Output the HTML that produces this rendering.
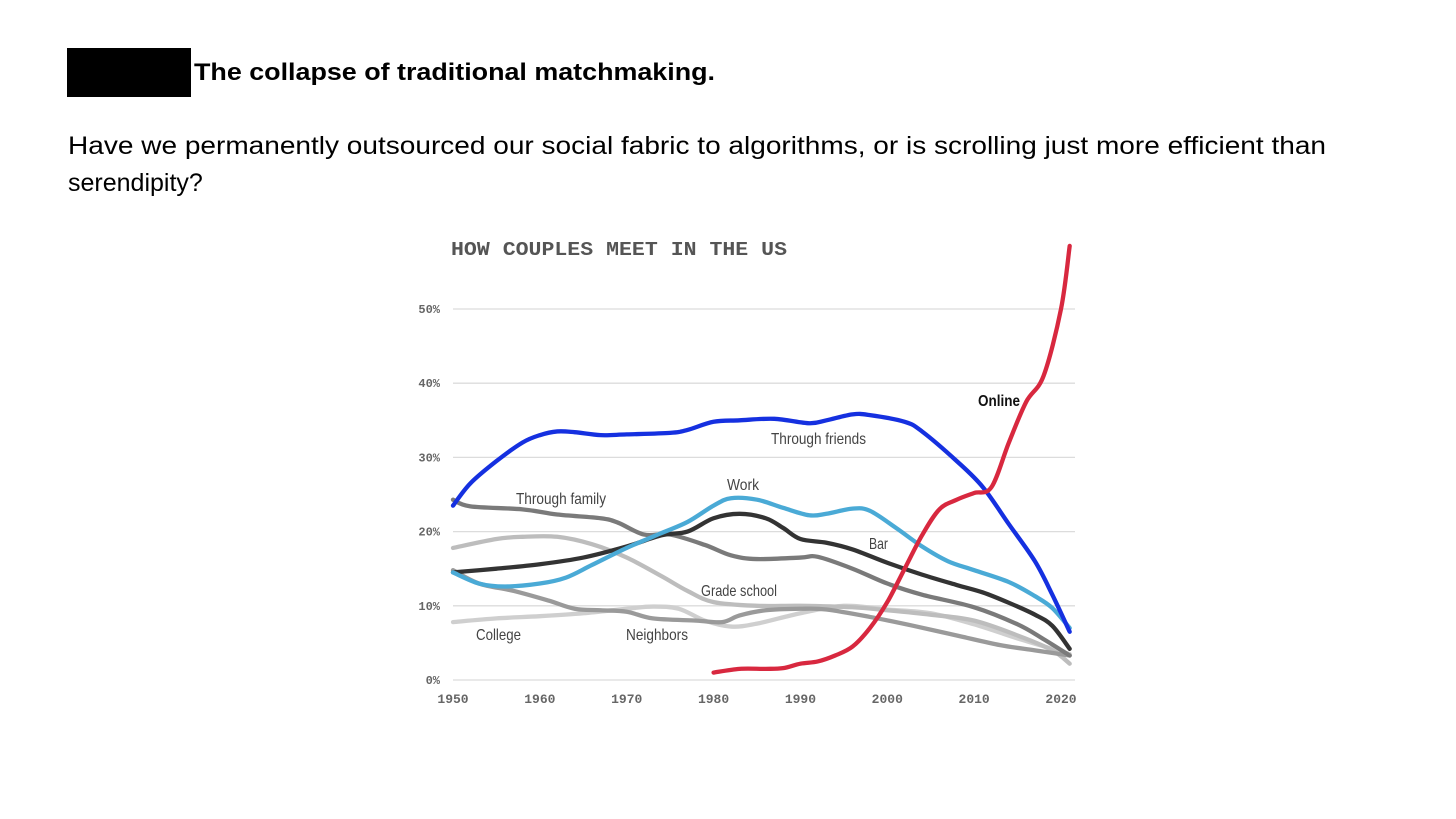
<!DOCTYPE html>
<html><head><meta charset="utf-8"><style>
html,body{margin:0;padding:0;background:#fff;}
svg{display:block;}
</style></head><body>
<svg id="page" width="1456" height="819" viewBox="0 0 1456 819" xmlns="http://www.w3.org/2000/svg">
<rect x="0" y="0" width="1456" height="819" fill="#fff"/>
<rect x="67" y="48" width="124" height="49" fill="#000"/>
<text x="194" y="80" font-family="Liberation Sans, sans-serif" font-weight="bold" font-size="24" textLength="521" lengthAdjust="spacingAndGlyphs" fill="#000">The collapse of traditional matchmaking.</text>
<text x="68" y="154" font-family="Liberation Sans, sans-serif" font-size="25" textLength="1258" lengthAdjust="spacingAndGlyphs" fill="#000">Have we permanently outsourced our social fabric to algorithms, or is scrolling just more efficient than</text>
<text x="68" y="191" font-family="Liberation Sans, sans-serif" font-size="25" fill="#000">serendipity?</text>
<text x="451" y="255" font-family="Liberation Mono, monospace" font-weight="bold" font-size="19" textLength="336" lengthAdjust="spacingAndGlyphs" fill="#555">HOW COUPLES MEET IN THE US</text>
<g id="grid"></g>
<g id="lines"></g>
<g id="labels"></g>
</svg>
<script>
const yTicks=[0,10,20,30,40,50];
const xTicks=[1950,1960,1970,1980,1990,2000,2010,2020];
const friendsYears=[1950,1952,1955,1958,1960,1962,1964,1967,1970,1975,1977,1980,1983,1987,1991,1993,1996,1998,2002,2004,2008,2011,2014,2017,2019,2021];
const friendsVals=[23.5,26.5,29.5,32,33,33.5,33.4,33,33.1,33.3,33.7,34.8,35,35.2,34.6,35,35.8,35.7,34.8,33.5,29.5,26,21,16,11.5,6.5];
const onlineYears=[1980,1983,1986,1988,1990,1992,1994,1996,1998,2000,2002,2004,2006,2008,2010,2012,2014,2016,2018,2020,2021];
const onlineVals=[1,1.5,1.5,1.6,2.2,2.5,3.3,4.5,7,10.5,15,19.5,23,24.3,25.2,26,32,37.5,41,50,58.5];
const workYears=[1950,1953,1956,1960,1963,1966,1970,1974,1977,1980,1982,1985,1988,1991,1993,1996,1998,2001,2004,2007,2010,2014,2017,2019,2021];
const workVals=[14.5,13,12.6,13,13.8,15.5,17.8,19.8,21.3,23.5,24.5,24.3,23.2,22.2,22.4,23.1,22.8,20.5,18,16,14.8,13.2,11.3,9.7,7];
const barYears=[1950,1955,1960,1965,1970,1974,1977,1980,1983,1986,1988,1990,1993,1996,2000,2004,2008,2011,2014,2017,2019,2021];
const barVals=[14.5,15,15.6,16.5,18,19.5,20,21.8,22.4,21.8,20.5,19,18.5,17.6,15.8,14.2,12.8,11.8,10.4,8.8,7.3,4.2];
const familyYears=[1950,1952,1958,1962,1967,1969,1972,1975,1979,1982,1985,1990,1992,1996,2000,2004,2010,2015,2018,2021];
const familyVals=[24.3,23.4,23,22.3,21.8,21.2,19.6,19.6,18.2,16.8,16.3,16.5,16.6,15,13,11.5,9.8,7.5,5.5,3.3];
const gradeYears=[1950,1955,1958,1962,1966,1970,1974,1977,1980,1985,1990,1996,2000,2005,2010,2015,2019,2021];
const gradeVals=[17.8,19,19.3,19.3,18.3,16.5,14,12,10.5,10,10,9.8,9.4,8.8,8,6,4,2.2];
const neighYears=[1950,1953,1957,1961,1964,1967,1970,1973,1978,1981,1983,1986,1990,1993,1998,2003,2008,2013,2017,2021];
const neighVals=[14.8,13,12,10.7,9.6,9.4,9.2,8.3,8,7.8,8.7,9.4,9.6,9.5,8.5,7.3,6,4.7,4,3.3];
const collegeYears=[1950,1955,1960,1965,1970,1973,1976,1979,1982,1985,1990,1995,2000,2005,2010,2015,2019,2021];
const collegeVals=[7.8,8.3,8.6,9,9.6,9.9,9.6,8,7.2,7.6,9,10,9.5,9,7.5,5.6,4.2,3.5];

const NS='http://www.w3.org/2000/svg';
const X=y=>453+(y-1950)*(1061-453)/70;
const Y=v=>680-v*(680-309)/50;
function mk(tag,attrs,parent){const e=document.createElementNS(NS,tag);for(const k in attrs)e.setAttribute(k,attrs[k]);parent.appendChild(e);return e;}
const grid=document.getElementById('grid'),lines=document.getElementById('lines'),labels=document.getElementById('labels');
yTicks.forEach(t=>{
  const l=mk('line',{x1:453,x2:1075,y1:Y(t),y2:Y(t),stroke:'#dcdcdc','stroke-width':1.3},grid);
  
  
  const tx=mk('text',{x:440,y:Y(t)+4,'text-anchor':'end','font-family':'Liberation Mono, monospace','font-weight':'bold','font-size':12,fill:'#666'},grid);
  tx.textContent=t+'%';
  
  
});
xTicks.forEach(t=>{
  const tx=mk('text',{x:X(t),y:703,'text-anchor':'middle','font-family':'Liberation Mono, monospace','font-weight':'bold','font-size':13,fill:'#666'},grid);
  tx.textContent=t;
  
  
});
function pathD(xs,vs){
  const p=xs.map((x,i)=>[X(x),Y(vs[i])]);
  let d='M'+p[0][0]+','+p[0][1];
  for(let i=0;i<p.length-1;i++){
    const p0=p[i-1]||p[i],p1=p[i],p2=p[i+1],p3=p[i+2]||p2;
    const c1=[p1[0]+(p2[0]-p0[0])/6,p1[1]+(p2[1]-p0[1])/6];
    const c2=[p2[0]-(p3[0]-p1[0])/6,p2[1]-(p3[1]-p1[1])/6];
    d+=' C'+c1[0]+','+c1[1]+' '+c2[0]+','+c2[1]+' '+p2[0]+','+p2[1];
  }
  return d;
}
const series=[
  ['line-college',collegeYears,collegeVals,'#cfcfcf'],
  ['line-grade-school',gradeYears,gradeVals,'#bdbdbd'],
  ['line-neighbors',neighYears,neighVals,'#9a9a9a'],
  ['line-through-family',familyYears,familyVals,'#7a7a7a'],
  ['line-bar',barYears,barVals,'#333333'],
  ['line-work',workYears,workVals,'#4aaad6'],
  ['line-through-friends',friendsYears,friendsVals,'#1530e0'],
  ['line-online',onlineYears,onlineVals,'#d8283f']
];
series.forEach(s=>{
  const e=mk('path',{d:pathD(s[1],s[2]),fill:'none',stroke:s[3],'stroke-width':4.3,'stroke-linecap':'round','stroke-linejoin':'round'},lines);
  
  
});
const lbls=[['label-online','Online',978,406,'#111','bold',42],['label-through-friends','Through friends',771,444,'#444','normal',95],['label-work','Work',727,490,'#444','normal',32],['label-through-family','Through family',516,504,'#444','normal',90],['label-bar','Bar',869,549,'#444','normal',19],['label-grade-school','Grade school',701,596,'#444','normal',76],['label-college','College',476,640,'#444','normal',45],['label-neighbors','Neighbors',626,640,'#444','normal',62]];
lbls.forEach(l=>{
  const t=mk('text',{x:l[2],y:l[3],'font-family':'Liberation Sans, sans-serif','font-size':16,fill:l[4],'font-weight':l[5],textLength:l[6],lengthAdjust:'spacingAndGlyphs'},labels);
  t.textContent=l[1];
  
  
});
</script>
</body></html>
